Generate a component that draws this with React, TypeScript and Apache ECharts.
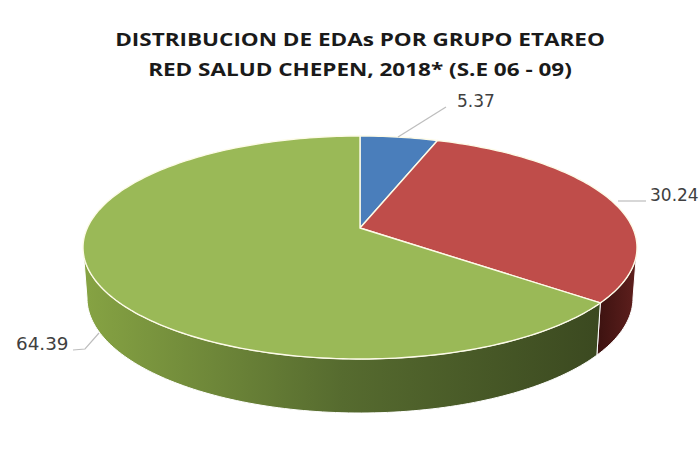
import React, { useEffect, useRef } from "react";
import * as echarts from "echarts";

const titleLines = ["DISTRIBUCION DE EDAs POR GRUPO ETAREO", "RED SALUD CHEPEN, 2018* (S.E 06 - 09)"];
const values = [5.37, 30.24, 64.39];
const topColors = ["#4a7ebb", "#bf4d4a", "#9ab957"];

const TOP = { cx: 360, cy: 247.5, rx: 277, ry: 111.5 };
const BASE = { cx: 360, cy: 298, rx: 273, ry: 115 };
const TILT = -0.175;
const TAU = Math.PI * 2;
const total = values.reduce((a, b) => a + b, 0);

// Perspective view of a circle: angle clockwise from 12 o'clock -> point on a unit ellipse.
const project = (t: number) => {
  const X = Math.sin(t);
  const Y = -Math.cos(t);
  const d = 1 + TILT * Y;
  return [(X * Math.sqrt(1 - TILT * TILT)) / d, (Y + TILT) / d];
};
const onEllipse = (e: typeof TOP, p: number[]) => [e.cx + e.rx * p[0], e.cy + e.ry * p[1]];
const sample = (a: number, b: number) => {
  const n = Math.max(2, Math.ceil((b - a) / 0.02));
  return Array.from({ length: n + 1 }, (_, i) => a + ((b - a) * i) / n);
};
const toPath = (pts: number[][]) =>
  pts.map((p, i) => `${i ? "L" : "M"}${p[0].toFixed(2)} ${p[1].toFixed(2)}`).join("") + "Z";

const wallFills = () => [
  "#2f5a8a",
  new echarts.graphic.LinearGradient(597, 0, 636, 0, [
    { offset: 0, color: "#3c1210" },
    { offset: 1, color: "#5e1f1d" },
  ], true),
  new echarts.graphic.LinearGradient(84, 0, 600, 0, [
    { offset: 0, color: "#86a343" },
    { offset: 0.5, color: "#566b2f" },
    { offset: 1, color: "#3b4920" },
  ], true),
];

const renderSlice = (params: any, api: any) => {
  const i = params.dataIndex;
  const before = values.slice(0, i).reduce((a, b) => a + b, 0);
  const t0 = (before / total) * TAU;
  const t1 = ((before + api.value(0)) / total) * TAU;
  const apex = onEllipse(TOP, [0, TILT]);
  const rim = sample(t0, t1).map((t) => onEllipse(TOP, project(t)));
  const children: any[] = [];

  const lim = Math.acos(TILT);
  const w0 = Math.max(t0, lim);
  const w1 = Math.min(t1, TAU - lim);
  if (w1 > w0) {
    const ts = sample(w0, w1);
    const upper = ts.map((t) => onEllipse(TOP, project(t)));
    const lower = ts.map((t) => onEllipse(BASE, project(t))).reverse();
    children.push({
      type: "path",
      z2: 1,
      shape: { pathData: toPath(upper.concat(lower)) },
      style: { fill: wallFills()[i], stroke: "#ffffff", lineWidth: 1 },
    });
  }
  children.push({
    type: "path",
    z2: 2 + (i === 2 ? 1 : 0),
    shape: { pathData: toPath([apex, ...rim]) },
    style: { fill: topColors[i], stroke: "#fdfbe8", lineWidth: 1.4 },
  });
  return { type: "group", children };
};

const labelStyle = { font: "17px 'DejaVu Sans'", fill: "#404040" };

export default function App() {
  const ref = useRef<HTMLDivElement>(null);
  useEffect(() => {
    document.body.style.margin = "0";
    const chart = echarts.init(ref.current!, undefined, { renderer: "svg" });
    chart.setOption({
      animation: false,
      backgroundColor: "#ffffff",
      series: [
        {
          type: "custom",
          coordinateSystem: "none",
          data: values.map((v) => [v]),
          renderItem: renderSlice,
          silent: true,
        },
      ],
      graphic: [
        ...titleLines.map((text, i) => ({
          type: "text",
          x: 360,
          y: 39 + i * 30,
          scaleX: 1.25,
          style: {
            text,
            font: "bold 18px 'Open Sans'",
            fill: "#1a1a1a",
            textAlign: "center",
            textVerticalAlign: "middle",
          },
        })),
        { type: "text", x: 457, y: 101, style: { text: values[0].toFixed(2), ...labelStyle, textVerticalAlign: "middle" } },
        { type: "text", x: 650, y: 195, style: { text: values[1].toFixed(2), ...labelStyle, textVerticalAlign: "middle" } },
        { type: "text", x: 16, y: 344, scaleX: 1.08, style: { text: values[2].toFixed(2), ...labelStyle, textVerticalAlign: "middle" } },
        { type: "polyline", z: 5, shape: { points: [[398, 137], [446, 107]] }, style: { stroke: "#bdbdbd", lineWidth: 1.2, fill: "none" } },
        { type: "polyline", z: 5, shape: { points: [[618, 201], [646, 201]] }, style: { stroke: "#bdbdbd", lineWidth: 1.2, fill: "none" } },
        { type: "polyline", z: 5, shape: { points: [[99, 333], [85, 349], [73, 350]] }, style: { stroke: "#bdbdbd", lineWidth: 1.2, fill: "none" } },
      ],
    });
    return () => chart.dispose();
  }, []);
  return <div ref={ref} style={{ width: 699, height: 466 }} />;
}
